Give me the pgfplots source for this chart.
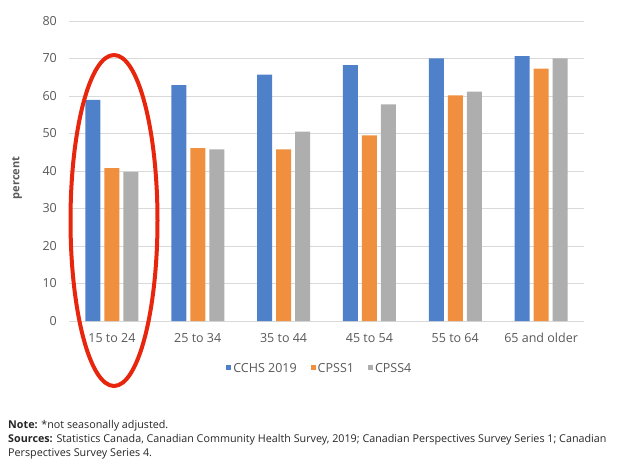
\documentclass[border=0pt]{standalone}
\usepackage{pgfplots}
\pgfplotsset{compat=1.18}
\usepackage{fontspec}
\setmainfont{Open Sans}
\definecolor{cblue}{RGB}{79,129,203}
\definecolor{corange}{RGB}{240,144,62}
\definecolor{cgray}{RGB}{174,174,174}
\definecolor{gridgray}{RGB}{217,217,217}
\definecolor{txtgray}{RGB}{89,89,89}
\definecolor{cred}{RGB}{232,38,14}
\begin{document}
\begin{tikzpicture}[x=1pt,y=1pt]
\useasboundingbox (0,0) rectangle (637,467);
\begin{axis}[
  at={(69pt,146pt)}, anchor=south west,
  scale only axis, width=515pt, height=300pt,
  ymin=0, ymax=80, xmin=-0.5, xmax=5.5,
  enlargelimits=false,
  ytick={0,10,...,80},
  xtick={0,1,2,3,4,5},
  xticklabels={15 to 24,25 to 34,35 to 44,45 to 54,55 to 64,65 and older},
  axis x line*=bottom, axis y line*=left,
  y axis line style={draw=none},
  x axis line style={draw=gridgray, line width=0.8pt},
  major tick length=0pt,
  ymajorgrids, grid style={draw=gridgray, line width=0.8pt},
  /pgf/number format/assume math mode=true,
  tick label style={font=\fontsize{12.5}{15}\selectfont, text=txtgray},
  yticklabel style={anchor=east, inner sep=0pt, xshift=-12pt},
  xticklabel style={anchor=base, inner sep=0pt, yshift=-21pt},
  ylabel={percent},
  ylabel style={at={(axis description cs:-0.101,0.477)}, anchor=center, rotate=0, font=\fontsize{11}{13}\selectfont\bfseries, text=txtgray},
  ybar, bar width=15pt,
  legend columns=3,
  legend style={at={(axis description cs:0.487,-0.16)}, anchor=center, draw=none, fill=none,
     font=\fontsize{12.5}{15}\selectfont, text=txtgray,
     /tikz/every even column/.append style={column sep=12pt}},
  legend image code/.code={\fill[#1] (0pt,-1pt) rectangle (5pt,4pt);},
]
\addplot[fill=cblue, draw=none, bar shift=-19pt] coordinates {(0,59.0) (1,62.9) (2,65.7) (3,68.2) (4,70.0) (5,70.6)};
\addplot[fill=corange, draw=none, bar shift=0pt] coordinates {(0,40.8) (1,46.1) (2,45.8) (3,49.5) (4,60.2) (5,67.3)};
\addplot[fill=cgray, draw=none, bar shift=19pt] coordinates {(0,39.8) (1,45.8) (2,50.5) (3,57.8) (4,61.2) (5,70.0)};
\legend{CCHS 2019,CPSS1,CPSS4}
\end{axis}
\draw[cred, line width=4pt] (114,246.5) ellipse [x radius=43.5, y radius=165.5];
\begin{scope}[every node/.style={anchor=base west, inner sep=0pt, font=\fontsize{10.75}{13}\selectfont, text=black!85}]
\node at (8,39) {\textbf{Note:} *not seasonally adjusted.};
\node at (8,25) {\textbf{Sources:} Statistics Canada, Canadian Community Health Survey, 2019; Canadian Perspectives Survey Series 1; Canadian};
\node at (8,11) {Perspectives Survey Series 4.};
\end{scope}
\end{tikzpicture}
\end{document}
